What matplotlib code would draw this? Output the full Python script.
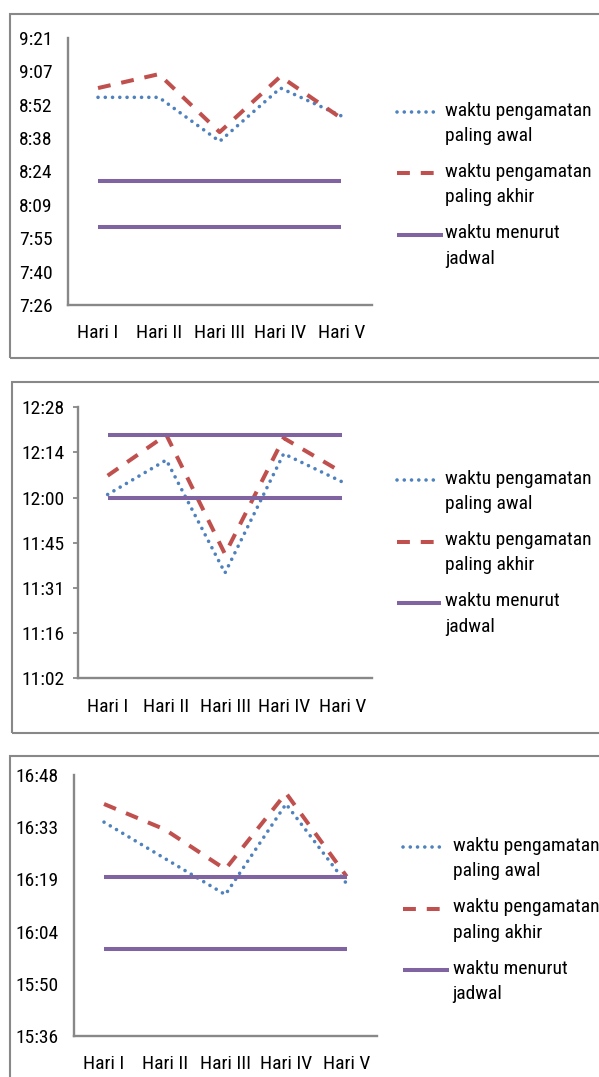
import numpy as np
import matplotlib.pyplot as plt
from matplotlib import font_manager as fm
from matplotlib.lines import Line2D
from matplotlib.patches import Rectangle

days = ["Hari I", "Hari II", "Hari III", "Hari IV", "Hari V"]

# pagi
awal_1 = ["8:56", "8:56", "8:37", "9:00", "8:48"]
akhir_1 = ["9:00", "9:06", "8:41", "9:05", "8:47"]
jadwal_1 = ["8:00", "8:20"]
ylim_1 = (0.31, 0.39)
yticks_1 = ["7:26", "7:40", "7:55", "8:09", "8:24", "8:38", "8:52", "9:07", "9:21"]

# siang
awal_2 = ["12:01", "12:12", "11:36", "12:14", "12:05"]
akhir_2 = ["12:07", "12:20", "11:42", "12:19", "12:08"]
jadwal_2 = ["12:00", "12:20"]
ylim_2 = (0.46, 0.52)
yticks_2 = ["11:02", "11:16", "11:31", "11:45", "12:00", "12:14", "12:28"]

# sore
awal_3 = ["16:35", "16:25", "16:15", "16:40", "16:18"]
akhir_3 = ["16:40", "16:33", "16:22", "16:43", "16:20"]
jadwal_3 = ["16:00", "16:20"]
ylim_3 = (0.65, 0.70)
yticks_3 = ["15:36", "15:50", "16:04", "16:19", "16:33", "16:48"]

labels = ["waktu pengamatan\npaling awal",
          "waktu pengamatan\npaling akhir",
          "waktu menurut\njadwal"]

BLUE = "#4F81BD"
RED = "#C0504D"
PURPLE = "#8064A2"
GRAY = "#888888"

# the original uses a narrow font; take one if it is there
FONT, FS = "Liberation Sans", 12
for name, size in [("Liberation Sans Narrow", 14.5), ("Roboto Condensed", 14),
                   ("Open Sans Condensed", 14), ("DejaVu Sans Condensed", 12.5)]:
    try:
        fm.findfont(fm.FontProperties(family=name), fallback_to_default=False)
        FONT, FS = name, size
        break
    except ValueError:
        pass
plt.rcParams['font.family'] = [FONT, 'DejaVu Sans']

W, H = 599, 1077


def day_frac(t):
    h, m = t.split(":")
    return (int(h) * 60 + int(m)) / 1440


def fx(px):
    return px / W


def fy(py):
    return 1 - py / H


styles = [
    dict(color=BLUE, lw=2.6, dashes=[0.01, 2.0], dash_capstyle="round"),
    dict(color=RED, lw=2.9, dashes=[3.2, 2.7], dash_capstyle="butt"),
    dict(color=PURPLE, lw=2.9, solid_capstyle="butt"),
]

# pixel layout: axes (left, top, right, bottom), box (left, top, bottom),
# y tick length, y label pad, legend (handle x0, x1, purple x1, text x, first y)
panels = [
    dict(awal=awal_1, akhir=akhir_1, jadwal=jadwal_1, ylim=ylim_1, yt=yticks_1,
         ax=(67.6, 38, 371.7, 305), box=(10, 14, 358), tlen=0, tpad=10.7,
         leg=(397, 435, 443, 445, 112)),
    dict(awal=awal_2, akhir=akhir_2, jadwal=jadwal_2, ylim=ylim_2, yt=yticks_2,
         ax=(78.3, 407.3, 371.7, 678.3), box=(11.5, 382, 733), tlen=3.6, tpad=6,
         leg=(397, 435, 441, 445, 480)),
    dict(awal=awal_3, akhir=akhir_3, jadwal=jadwal_3, ylim=ylim_3, yt=yticks_3,
         ax=(73.7, 775, 377, 1036), box=(9.5, 756, 1200), tlen=0, tpad=10.6,
         leg=(403, 443, 449, 452.6, 847.3)),
]

fig = plt.figure(figsize=(W / 100, H / 100), dpi=100)

x = np.arange(len(days))
for p in panels:
    bl, bt, bb = p["box"]
    fig.add_artist(Rectangle((fx(bl), fy(bb)), fx(W + 50 - bl), (bb - bt) / H,
                             transform=fig.transFigure, fill=False,
                             edgecolor=GRAY, lw=1.5))

    l, t, r, b = p["ax"]
    ax = fig.add_axes([fx(l), fy(b), fx(r - l), (b - t) / H])
    ax.plot(x, [day_frac(v) for v in p["awal"]], **styles[0])
    ax.plot(x, [day_frac(v) for v in p["akhir"]], **styles[1])
    for j in p["jadwal"]:
        ax.plot(x, [day_frac(j)] * len(x), **styles[2])

    lo, hi = p["ylim"]
    ax.set_ylim(lo, hi)
    ax.set_yticks(np.linspace(lo, hi, len(p["yt"])))
    ax.set_yticklabels(p["yt"])
    ax.set_xlim(-0.5, len(days) - 0.5)
    ax.set_xticks(x)
    ax.set_xticklabels(days)
    ax.tick_params(axis="y", length=p["tlen"], width=1.3, color=GRAY,
                   pad=p["tpad"], labelsize=FS)
    ax.tick_params(axis="x", length=0, pad=14, labelsize=FS)
    for s in ["top", "right"]:
        ax.spines[s].set_visible(False)
    for s in ["left", "bottom"]:
        ax.spines[s].set_color(GRAY)
        ax.spines[s].set_linewidth(1.7)

    # legend drawn by hand: handle sits next to the first text line
    hx0, hx1, hx1p, tx, ly = p["leg"]
    for k, lab in enumerate(labels):
        yy = ly + k * 61.5
        x1 = hx1p if k == 2 else hx1
        fig.add_artist(Line2D([fx(hx0), fx(x1)], [fy(yy), fy(yy)],
                              transform=fig.transFigure, **styles[k]))
        for n, line in enumerate(lab.split("\n")):
            fig.text(fx(tx), fy(yy + n * 25.5 - 1.5), line, fontsize=FS,
                     ha="left", va="center")

fig.savefig("out.png", dpi=100)
